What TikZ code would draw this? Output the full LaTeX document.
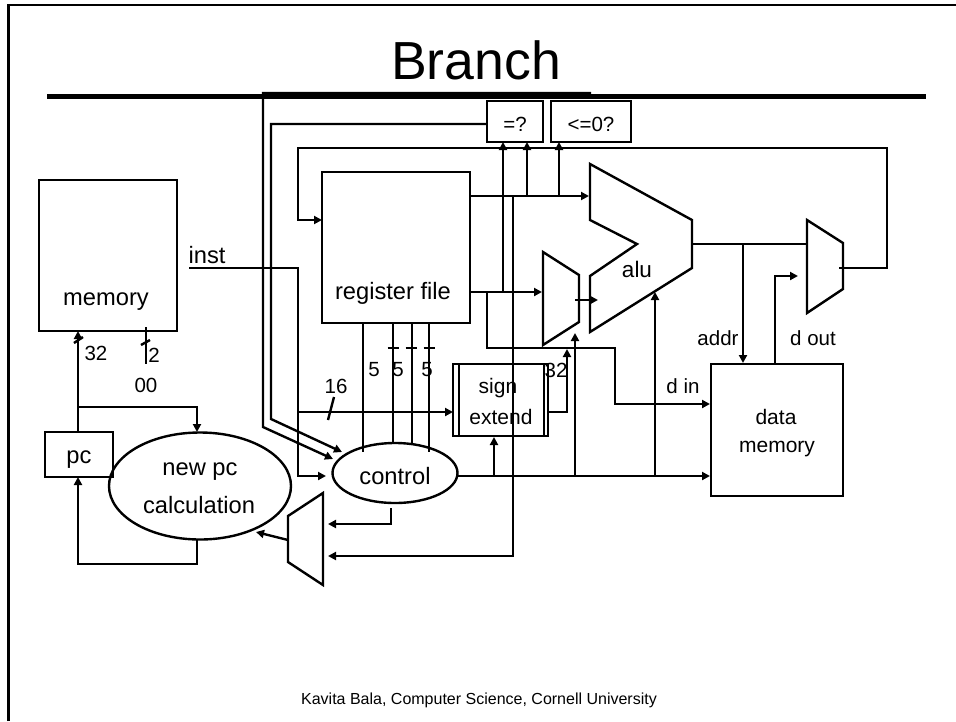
\documentclass[tikz,border=0pt]{standalone}
\usepackage{fontspec}
\setmainfont{Liberation Sans}
\usetikzlibrary{arrows.meta,shapes.geometric}

\begin{document}
\begin{tikzpicture}[
    x=1pt, y=-1pt, line width=2.4pt, line join=miter,
    blockbox/.style={rectangle, draw, line width=2.4pt, inner sep=0pt, outer sep=0pt},
    oval/.style={ellipse, draw, line width=2.4pt, inner sep=0pt, outer sep=0pt},
    lbl/.style={font=\fontsize{20.5}{24}\selectfont, inner sep=0pt},
    midlbl/.style={font=\fontsize{21}{26}\selectfont, inner sep=0pt},
    biglbl/.style={font=\fontsize{23.7}{30}\selectfont, inner sep=0pt},
    arr/.style={-{Triangle[length=8pt,width=8pt]}}
  ]
    \useasboundingbox (0,0) rectangle (956,721);

    % slide frame and title
    \coordinate (frameB) at (8.5,721);
    \coordinate (frameC) at (8.5,5);
    \coordinate (frameR) at (956,5);
    \draw[line width=2.6pt] (frameB) -- (frameC) -- (frameR);
    \node[font=\fontsize{53.6}{60}\selectfont, inner sep=0pt] (title) at (476,60) {Branch};
    \coordinate (ruleL) at (47,96.5);
    \coordinate (ruleR) at (926,96.5);
    \draw[line width=5pt] (ruleL) -- (ruleR);
    \node[font=\fontsize{16}{18}\selectfont, inner sep=0pt] (footer) at (479,700) {Kavita Bala, Computer Science, Cornell University};

    % boxes
    \node[blockbox, minimum width=138pt, minimum height=151pt] (mem)   at (108,255.5) {};
    \node[blockbox, minimum width=148pt, minimum height=151pt] (regs)  at (396,247.5) {};
    \node[blockbox, minimum width=56pt,  minimum height=41pt]  (eqz)   at (515,121.5) {};
    \node[blockbox, minimum width=80pt,  minimum height=41pt]  (lez)   at (591,121.5) {};
    \node[blockbox, minimum width=68pt,  minimum height=45pt]  (pc)    at (79,454.5) {};
    \node[blockbox, minimum width=95pt,  minimum height=72pt]  (sext)  at (500.5,400) {};
    \node[blockbox, minimum width=132pt, minimum height=132pt] (dmem)  at (777,430) {};
    \node[oval, minimum width=182pt, minimum height=107pt] (newpc) at (200,486) {};
    \node[oval, minimum width=125pt, minimum height=60pt]  (ctrl)  at (395,473) {};
    \draw[line width=2pt] (459,364) -- (459,436);
    \draw[line width=1.2pt] (544,364) -- (544,436);

    % muxes and alu
    \draw (288,516) -- (323,493) -- (323,585) -- (288,562) -- cycle;
    \draw (543,252) -- (579,275) -- (579,322) -- (543,345) -- cycle;
    \draw (807,220) -- (843,243) -- (843,289) -- (807,313) -- cycle;
    \draw (590,164) -- (692,220) -- (692,268) -- (590,332) -- (590,276) -- (637,244) -- (590,220) -- cycle;

    % ports and corners
    \coordinate (instS) at (189,268);
    \coordinate (instC) at (298,268);
    \coordinate (r1) at (470,196);
    \coordinate (r2) at (470,292);
    \coordinate (aluA) at (589,196);
    \coordinate (muxB) at (542,292);
    \coordinate (muxO) at (575,300);
    \coordinate (aluB) at (598,300);
    \coordinate (aluO) at (692,244);
    \coordinate (wbI) at (807,244);
    \coordinate (wbO) at (839,268);
    \coordinate (wbR) at (887,268);
    \coordinate (wbT) at (298,148);
    \coordinate (regW) at (322,220);
    \coordinate (loopA) at (263,93);
    \coordinate (loopB) at (591,93);
    \coordinate (loopC) at (263,427);
    \coordinate (ctlA) at (333,459);
    \coordinate (cmpL) at (271,124);
    \coordinate (cmpC) at (271,419);
    \coordinate (ctlB) at (342,452);
    \coordinate (ctlI) at (326,476);
    \coordinate (extI) at (453,412);
    \coordinate (extO) at (548,412);
    \coordinate (extU) at (567,349);
    \coordinate (cmpA) at (503,142);
    \coordinate (cmpB) at (527,142);
    \coordinate (cmpD) at (559,142);
    \coordinate (pcT) at (78,432);
    \coordinate (memB) at (78,331);
    \coordinate (pcJ) at (78,407);
    \coordinate (npcT) at (197,432);
    \coordinate (npcB) at (197,540);
    \coordinate (pcL) at (78,564);
    \coordinate (pcB) at (78,477);
    \coordinate (lmO) at (288,540);
    \coordinate (npcR) at (256,532);
    \coordinate (ctlO) at (391,508);
    \coordinate (ctlL) at (391,524);
    \coordinate (lmA) at (328,524);
    \coordinate (lmB) at (328,556);
    \coordinate (tapX) at (513,196);
    \coordinate (tapY) at (513,556);
    \coordinate (dinA) at (487,292);
    \coordinate (dinB) at (487,348);
    \coordinate (dinC) at (615,348);
    \coordinate (dinD) at (615,404);
    \coordinate (dinE) at (710,404);
    \coordinate (ctlR) at (458,476);
    \coordinate (dmemC) at (710,476);
    \coordinate (extC) at (494,476);
    \coordinate (extB) at (494,437);
    \coordinate (muxC) at (575,476);
    \coordinate (muxU) at (575,333);
    \coordinate (aluC) at (655,476);
    \coordinate (aluU) at (655,292);
    \coordinate (addrJ) at (743,244);
    \coordinate (addrE) at (743,363);
    \coordinate (doutS) at (775,364);
    \coordinate (doutE) at (798,276);

    % register file and alu wires
    \draw[arr] (r1) -- (aluA);
    \draw[arr] (r2) -- (muxB);
    \draw[arr] (muxO) -- (aluB);
    \draw (aluO) -- (wbI);
    \draw[arr] (addrJ) -- (addrE);
    \draw[arr] (doutS) |- (doutE);
    \draw[arr] (wbO) -- (wbR) |- (wbT) |- (regW);
    \draw[arr] (r2 -| cmpA) -- (cmpA);
    \draw[arr] (r1 -| cmpB) -- (cmpB);
    \draw[arr] (r1 -| cmpD) -- (cmpD);
    \draw[arr] (tapX) -- (tapY) -- (lmB);
    \draw[arr] (dinA) -- (dinB) -- (dinC) -- (dinD) -- (dinE);

    % branch loops to control
    \draw[arr] (loopB) -- (loopA) -- (loopC) -- (ctlA);
    \draw[arr] (eqz.west |- cmpL) -- (cmpL) -- (cmpC) -- (ctlB);

    % instruction wires
    \draw[arr] (instS) -- (instC) |- (ctlI);
    \draw[arr] (instC |- extI) -- (extI);
    \draw[arr] (extO) -| (extU);
    \draw (334,397) -- (328,420);

    % register selects
    \foreach \px/\py in {363/452,393/443,412/445,429/452}
      \draw (\px,323) -- (\px,\py);
    \foreach \px in {393,411,429}
      \draw (\px-5.5,348) -- (\px+5.5,348);

    % pc logic
    \draw[arr] (pcT) -- (memB);
    \draw (74,343) -- (83,337);
    \draw (146,327) -- (146,364);
    \draw (141,345) -- (150,340);
    \draw[arr] (pcJ) -| (npcT);
    \draw[arr] (npcB) |- (pcL) -- (pcB);
    \draw[arr] (lmO) -- (npcR);
    \draw[arr] (ctlO) -- (ctlL) -- (lmA);

    % control outputs
    \draw[arr] (ctlR) -- (dmemC);
    \draw[arr] (extC) -- (extB);
    \draw[arr] (muxC) -- (muxU);
    \draw[arr] (aluC) -- (aluU);

    % labels
    \node[biglbl] (lInst) at (207,255) {inst};
    \node[biglbl] (lMem) at (106,302) {memory};
    \node[biglbl] (lRegs) at (393,293) {register file};
    \node[lbl] (lEq) at (515,124) {=?};
    \node[lbl] (lLe) at (591,124) {<=0?};
    \node[biglbl] (lPc) at (79,460) {pc};
    \node[biglbl] (lCtrl) at (395,476) {control};
    \node[biglbl] (lNew) at (200,472) {new pc};
    \node[biglbl] (lCalc) at (199,505) {calculation};
    \node[lbl] (l32a) at (96,353) {32};
    \node[lbl] (l2) at (154,355) {2};
    \node[lbl] (l00) at (146,385) {00};
    \node[lbl] (l16) at (336,386) {16};
    \node[lbl] (l5a) at (374,370) {5};
    \node[lbl] (l5b) at (398,370) {5};
    \node[lbl] (l5c) at (427,370) {5};
    \node[lbl] (l32b) at (556,370) {32};
    \node[midlbl] (lSign) at (498,388) {sign};
    \node[midlbl] (lExt) at (501,417) {extend};
    \node[midlbl] (lData) at (776,417) {data};
    \node[midlbl] (lDmem) at (777,449) {memory};
    \node[font=\fontsize{22.5}{26}\selectfont, inner sep=0pt] (lAlu) at (637,269) {alu};
    \node[lbl] (lAddr) at (718,338) {addr};
    \node[lbl] (lOut) at (813,338) {d out};
    \node[lbl] (lIn) at (683,386) {d in};
  \end{tikzpicture}
\end{document}
